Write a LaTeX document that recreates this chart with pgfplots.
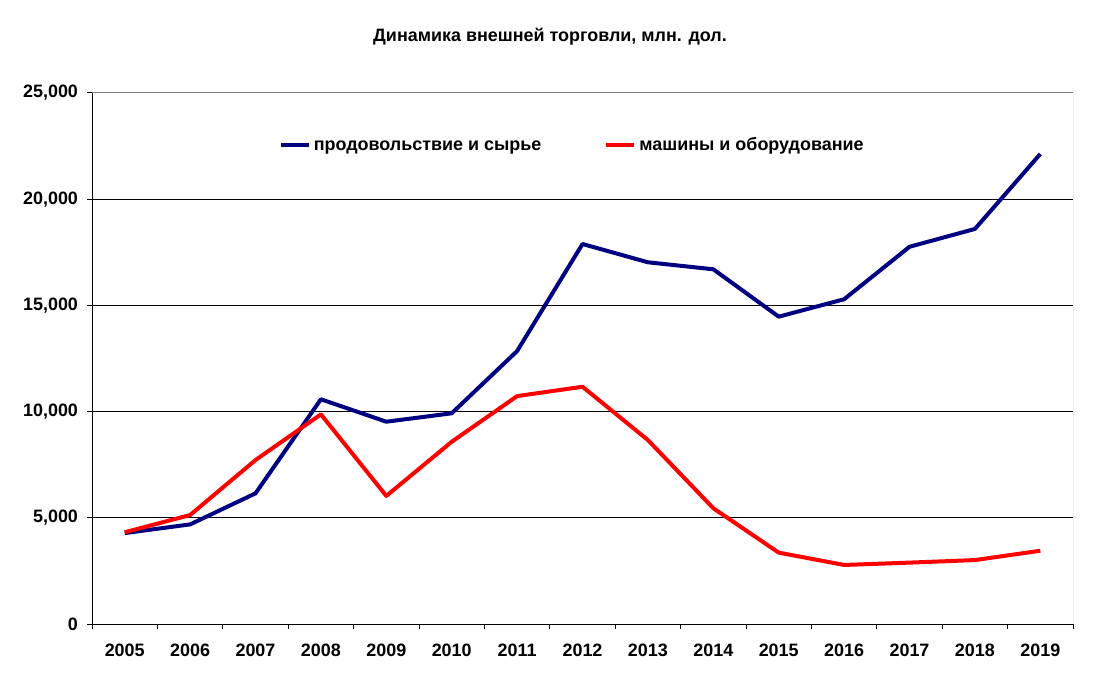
\documentclass[border=0pt]{standalone}
\usepackage{pgfplots}
\pgfplotsset{compat=1.18}
\usepackage{fontspec}
\setmainfont{Liberation Sans}
\definecolor{navyline}{RGB}{0,0,128}
\definecolor{redline}{RGB}{255,0,0}
\begin{document}
\begin{tikzpicture}[x=1bp,y=1bp]
\path[use as bounding box] (0,0) rectangle (550,336.5);
\node[font=\bfseries\fontsize{9}{10}\selectfont] at (275,318) {Динамика внешней торговли, млн. дол.};
\begin{axis}[
  at={(46bp,24.5bp)}, anchor=south west,
  scale only axis, width=490.5bp, height=265.5bp,
  xmin=-0.5, xmax=14.5, ymin=0, ymax=25000,
  xtick={-0.5,0.5,...,14.5},
  x tick label as interval,
  xticklabels={2005,2006,2007,2008,2009,2010,2011,2012,2013,2014,2015,2016,2017,2018,2019},
  ytick={0,5000,10000,15000,20000,25000},
  scaled y ticks=false,
  /pgf/number format/.cd, 1000 sep={,}, assume math mode=true, /pgfplots/.cd,
  tick label style={font=\bfseries\fontsize{9}{10}\selectfont, text=black},
  xticklabel style={yshift=-4bp},
  yticklabel style={xshift=-1bp},
  tick align=outside,
  major tick length=2.5bp,
  tick style={black, line width=0.5bp},
  ymajorgrids,
  grid style={black, line width=0.5bp},
  axis line style={line width=0.5bp},
  axis x line*=bottom, axis y line*=left,
  x axis line style={-}, y axis line style={-},
  legend columns=2,
  legend style={draw=none, fill=none, at={(0.19,0.902)}, anchor=west,
    font=\bfseries\fontsize{9}{10}\selectfont,
    nodes={inner xsep=1.5bp, text height=0.72em, text depth=0.22em},
    /tikz/every even column/.append style={column sep=30bp},
    inner sep=0pt},
  legend image code/.code={\draw[#1, line width=2bp] (0,0) -- (14bp,0);},
]
\draw[gray, line width=0.5bp] (rel axis cs:0,1) -- (rel axis cs:1,1) -- (rel axis cs:1,0);
\addplot[navyline, line width=2bp, line join=round] coordinates {
(0,4280) (1,4690) (2,6150) (3,10580) (4,9525) (5,9920) (6,12850) (7,17890)
(8,17030) (9,16700) (10,14470) (11,15290) (12,17760) (13,18600) (14,22130)};
\addlegendentry{продовольствие и сырье}
\addplot[redline, line width=2bp, line join=round] coordinates {
(0,4320) (1,5130) (2,7720) (3,9870) (4,6030) (5,8580) (6,10730) (7,11170)
(8,8660) (9,5450) (10,3360) (11,2780) (12,2890) (13,3010) (14,3450)};
\addlegendentry{машины и оборудование}
\end{axis}
\end{tikzpicture}
\end{document}
